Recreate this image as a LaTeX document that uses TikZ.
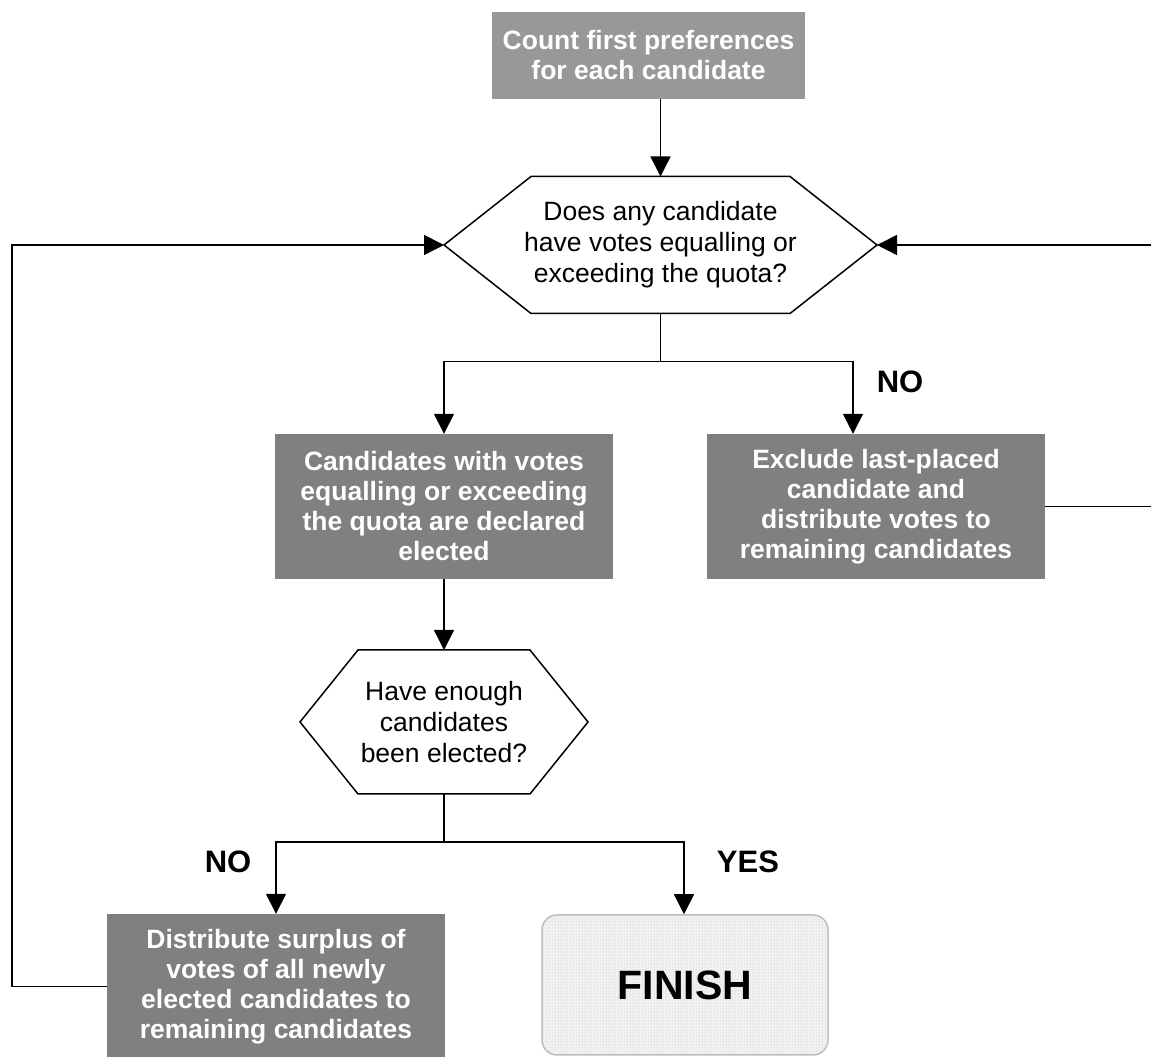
\documentclass[tikz,border=0pt]{standalone}
\usepackage{fontspec}
\setmainfont{Liberation Sans}
\usetikzlibrary{arrows.meta,patterns}
\definecolor{boxgray}{RGB}{128,128,128}
\definecolor{topgray}{RGB}{152,152,152}
\definecolor{finborder}{RGB}{190,190,190}
\definecolor{finfill}{RGB}{242,242,242}
\definecolor{findot}{RGB}{185,185,185}
\begin{document}
\begin{tikzpicture}[x=1pt,y=1pt,
  line/.style={line width=1.5pt, draw=black},
  arr/.style={line, -{Triangle[length=20pt,width=20pt]}},
  gbox/.style={fill=boxgray, text=white, font=\fontsize{26.5}{30}\selectfont\bfseries, align=center, inner sep=0pt, minimum width=338pt, minimum height=145pt},
  qtext/.style={font=\fontsize{26.5}{31}\selectfont, align=center, inner sep=0pt},
  lbl/.style={font=\fontsize{31}{36}\selectfont\bfseries, inner sep=0pt},
  finbox/.style={draw=finborder, line width=1.5pt, rounded corners=15pt, preaction={fill=finfill}, pattern=dots, pattern color=findot, minimum width=286pt, minimum height=140pt, inner sep=0pt, font=\fontsize{41}{46}\selectfont\bfseries},
]
\useasboundingbox (0,0) rectangle (1151,1057);

% nodes
\node[gbox, fill=topgray, minimum width=313pt, minimum height=87pt] (count) at (648.5,1001.5) {Count first preferences\\for each candidate};

\node[qtext] (q1) at (660.5,812) {Does any candidate\\have votes equalling or\\exceeding the quota?};
\path (q1.center) ++(-216.5,0) coordinate (q1w)
      (q1.center) ++(216.5,0) coordinate (q1e)
      (q1.center) ++(0,68.5) coordinate (q1n)
      (q1.center) ++(0,-68.5) coordinate (q1s);
\draw[line] (q1w) -- ++(87,68.5) -- ++(259,0) -- (q1e) -- ++(-87,-68.5) -- ++(-259,0) -- cycle;

\node[gbox] (elect) at (444,550.5) {Candidates with votes\\equalling or exceeding\\the quota are declared\\elected};
\node[gbox] (excl) at (876,550.5) {Exclude last-placed\\candidate and\\distribute votes to\\remaining candidates};

\node[qtext] (q2) at (444,335) {Have enough\\candidates\\been elected?};
\path (q2.center) ++(-144,0) coordinate (q2w)
      (q2.center) ++(144,0) coordinate (q2e)
      (q2.center) ++(0,72) coordinate (q2n)
      (q2.center) ++(0,-72) coordinate (q2s);
\draw[line] (q2w) -- ++(58,72) -- ++(172,0) -- (q2e) -- ++(-58,-72) -- ++(-172,0) -- cycle;

\node[gbox] (dist) at (276,70.5) {Distribute surplus of\\votes of all newly\\elected candidates to\\remaining candidates};
\node[finbox] (fin) at (685,72) {FINISH};

\node[lbl] (no1) at (900,675) {NO};
\node[lbl] (yes) at (748,195) {YES};
\node[lbl] (no2) at (228,195) {NO};

% connectors
\draw[arr] (count.south -| q1n) -- (q1n);
\draw[line] (q1s) -- ++(0,-48) coordinate (j1);
\draw[arr] (j1) -| (elect.north);
\draw[arr] (j1) -| ([xshift=-23pt]excl.north);
\draw[arr] (excl.east) -- ++(107,0) coordinate (rc) |- (q1e);
\draw[arr] (elect.south) -- (q2n);
\draw[line] (q2s) -- ++(0,-48) coordinate (j2);
\draw[arr] (j2) -| (dist.north);
\draw[arr] (j2) -| ([xshift=-1pt]fin.north);
\draw[arr] (dist.west) -- ++(-95,0) coordinate (lc) |- (q1w);
\end{tikzpicture}
\end{document}
